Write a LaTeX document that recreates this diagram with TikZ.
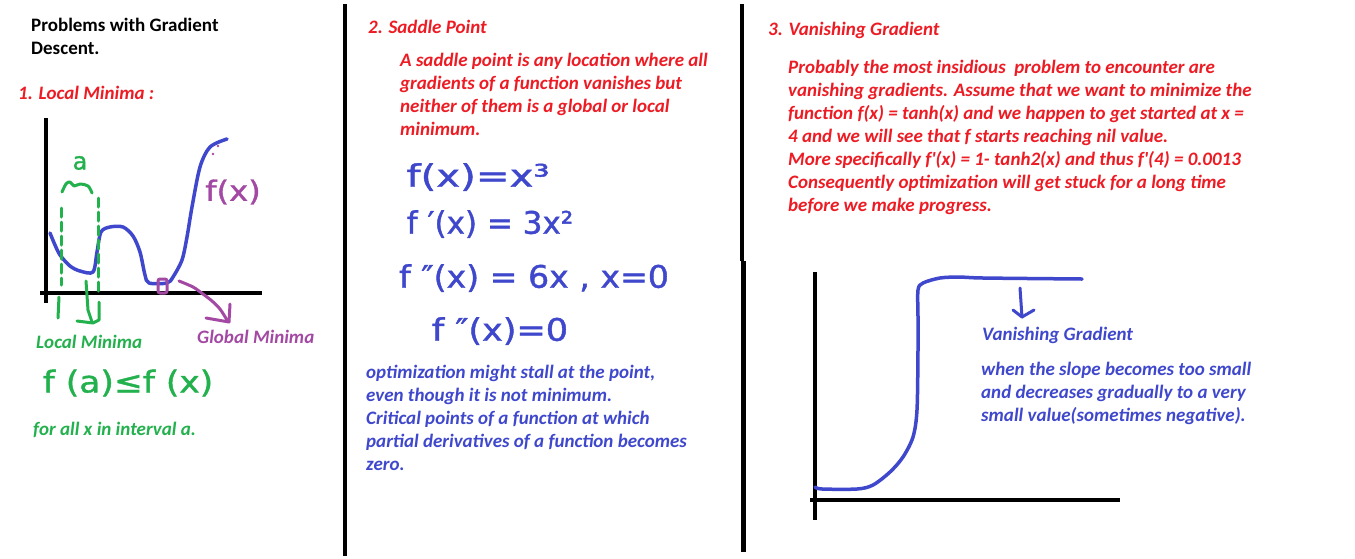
\documentclass[tikz,border=0pt]{standalone}
\usepackage{graphicx}
\usepackage{fontspec}
\setmainfont{Carlito}[Ligatures=TeXOff]
\newfontfamily\handfont[FakeBold=1.2]{DejaVu Sans}
\definecolor{pred}{RGB}{237,28,36}
\definecolor{pblue}{RGB}{63,72,204}
\definecolor{pgreen}{RGB}{34,177,76}
\definecolor{ppurple}{RGB}{163,73,164}
\tikzset{
  txt/.style={font=\bfseries\itshape\fontsize{19}{23}\selectfont, inner sep=0pt, anchor=north west, align=left},
  hand/.style={font=\handfont\fontsize{#1}{#1}\selectfont, inner sep=0pt},
  axisline/.style={line width=4pt, black},
  divider/.style={line width=4.5pt, black},
  bcurve/.style={line width=3.5pt, pblue, line cap=round, line join=round},
  gstroke/.style={line width=3pt, pgreen, line cap=round, line join=round},
  pstroke/.style={line width=3pt, ppurple, line cap=round, line join=round},
}
\begin{document}
\begin{tikzpicture}[x=1pt,y=-1pt]
\useasboundingbox (0,0) rectangle (1355,558);
\fill[white] (0,0) rectangle (1355,558);

% dividers
\draw[divider] (345,4) -- (345,556);
\draw[divider] (742,4) -- (742,261);
\draw[divider] (743.5,261) -- (743.5,552);

% ---------- panel 1 ----------
\node[txt, font=\bfseries\fontsize{19}{23}\selectfont, text=black] (title) at (31,31-16.1) {\strut Problems with Gradient\\Descent.};
\node[txt, text=pred] (h1) at (18,99-16.1) {\strut 1. Local Minima :};

\draw[axisline] (46,118) -- (46,303);
\draw[axisline] (40,293) -- (262,293);

\draw[bcurve] plot[smooth, tension=0.5] coordinates {(50,233) (55,245) (60,255) (70,266) (80,271) (93,272) (97,252) (101,232) (110,227) (123,227) (133,236) (140,252) (145,275) (149,283) (167,283) (173,277) (182,260) (187,237) (192,207) (200,167) (210,147) (227,139)};

% green local-minimum marks
\draw[gstroke, dash pattern=on 9pt off 5pt] (61,208) -- (61,285);
\draw[gstroke, dash pattern=on 9pt off 5pt] (98,198) -- (98,293);
\draw[gstroke] (59,297) -- (58,318);
\draw[gstroke] (86,281) -- (88,310) -- (92,322);
\draw[gstroke] (77,321) -- (93,323) -- (99,320) -- (99,302);
\draw[gstroke] plot[smooth, tension=0.6] coordinates {(62,192) (66,184) (70,182) (74,186) (80,184) (88,186) (92,193)};
\node[hand=24, text=pgreen] (la) at (80,163) {a};

% purple global minimum
\draw[pstroke, rounded corners=2pt] (158,279) rectangle (167,293);
\draw[pstroke] plot[smooth, tension=0.5] coordinates {(179,281) (193,287) (203,294) (212,301) (220,309) (227,320)};
\draw[pstroke] (230,304) -- (229,322) -- (206,318);
\fill[ppurple] (218,146) circle (1.3pt) (213,154) circle (1.3pt);
\node[hand=28, text=ppurple] (fx1) at (233,192) {\scalebox{1.15}[1]{f(x)}};

\node[txt, text=pgreen] (lmin) at (36,348-16.1) {\strut Local Minima};
\node[txt, text=ppurple] (gmin) at (197,343-16.1) {\strut Global Minima};
\node[hand=30, text=pgreen] (ineq) at (128,383) {\scalebox{1.15}[1]{f (a)≤f (x)}};
\node[txt, text=pgreen] (forall) at (33,435-16.1) {\strut for all x in interval a.};

% ---------- panel 2 ----------
\node[txt, text=pred] (h2) at (368,33-16.1) {\strut 2. Saddle Point};
\node[txt, text=pred] (p2) at (400,66-16.1) {\strut A saddle point is any location where all\\gradients of a function vanishes but\\neither of them is a global or local\\minimum.};

\node[hand=31, text=pblue] (m1) at (478,177) {\scalebox{1.3}[1]{f(x)=x³}};
\node[hand=31, text=pblue] (m2) at (490,224) {f ′(x) = 3x²};
\node[hand=31, text=pblue] (m3) at (534,278) {\scalebox{1.07}[1]{f ″(x) = 6x ,\ x=0}};
\node[hand=31, text=pblue] (m4) at (500,331) {\scalebox{1.13}[1]{f ″(x)=0}};

\node[txt, text=pblue] (p2b) at (366,378-16.1) {\strut optimization might stall at the point,\\even though it is not minimum.\\Critical points of a function at which\\partial derivatives of a function becomes\\zero.};

% ---------- panel 3 ----------
\node[txt, text=pred] (h3) at (768,35-16.1) {\strut 3. Vanishing Gradient};
\node[txt, text=pred] (p3) at (788,73-16.1) {\strut Probably the most insidious\ \ problem to encounter are\\vanishing gradients. Assume that we want to minimize the\\function f(x) = tanh(x) and we happen to get started at x =\\4 and we will see that f starts reaching nil value.\\More specifically f'(x) = 1- tanh2(x) and thus f'(4) = 0.0013\\Consequently optimization will get stuck for a long time\\before we make progress.};

\draw[axisline] (815,272) -- (815,520);
\draw[axisline] (810,500) -- (1120,500);

\draw[bcurve] plot[smooth, tension=0.5] coordinates {(815,487) (822,489) (857,489) (873,485) (890,472) (903,457) (913,437) (917,410) (918,350) (918,317) (918,290) (923,283) (940,278) (960,277) (983,278) (1082,279)};

\coordinate (vgtop) at (1020,288);
\coordinate (vgbot) at (1022,317);
\draw[bcurve, line width=3pt] (vgtop) -- (vgbot);
\draw[bcurve, line width=3pt] (1013,310) -- (vgbot) -- (1034,310);

\node[txt, text=pblue] (vg) at (982,340-16.1) {\strut Vanishing Gradient};
\node[txt, text=pblue] (p3b) at (981,375-16.1) {\strut when the slope becomes too small\\and decreases gradually to a very\\small value(sometimes negative).};
\end{tikzpicture}
\end{document}
